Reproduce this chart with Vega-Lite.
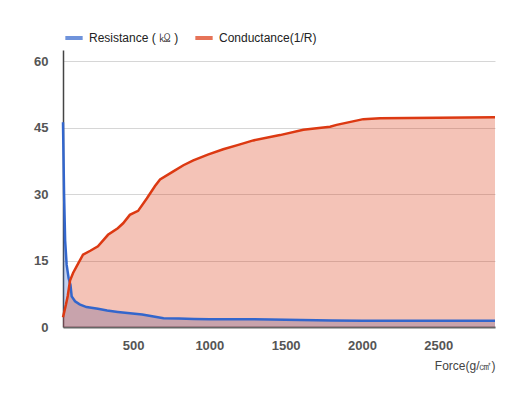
{
  "$schema": "https://vega.github.io/schema/vega-lite/v6.json",
  "width": 432,
  "height": 277,
  "autosize": "none",
  "padding": {"left": 63, "top": 50, "right": 35, "bottom": 76},
  "background": "white",
  "data": {
    "values": [
      {"force": 41, "series": "Resistance ( ㏀ )", "value": 46.2},
      {"force": 48, "series": "Resistance ( ㏀ )", "value": 30},
      {"force": 55, "series": "Resistance ( ㏀ )", "value": 19.5},
      {"force": 65, "series": "Resistance ( ㏀ )", "value": 14},
      {"force": 78, "series": "Resistance ( ㏀ )", "value": 11},
      {"force": 90, "series": "Resistance ( ㏀ )", "value": 9.5},
      {"force": 98, "series": "Resistance ( ㏀ )", "value": 6.9},
      {"force": 120, "series": "Resistance ( ㏀ )", "value": 5.8},
      {"force": 150, "series": "Resistance ( ㏀ )", "value": 5.1},
      {"force": 195, "series": "Resistance ( ㏀ )", "value": 4.5},
      {"force": 270, "series": "Resistance ( ㏀ )", "value": 4.1},
      {"force": 330, "series": "Resistance ( ㏀ )", "value": 3.7},
      {"force": 400, "series": "Resistance ( ㏀ )", "value": 3.4},
      {"force": 480, "series": "Resistance ( ㏀ )", "value": 3.1},
      {"force": 560, "series": "Resistance ( ㏀ )", "value": 2.8},
      {"force": 644, "series": "Resistance ( ㏀ )", "value": 2.3},
      {"force": 700, "series": "Resistance ( ㏀ )", "value": 2.0},
      {"force": 800, "series": "Resistance ( ㏀ )", "value": 1.9},
      {"force": 900, "series": "Resistance ( ㏀ )", "value": 1.8},
      {"force": 1000, "series": "Resistance ( ㏀ )", "value": 1.75},
      {"force": 1200, "series": "Resistance ( ㏀ )", "value": 1.75},
      {"force": 1400, "series": "Resistance ( ㏀ )", "value": 1.7},
      {"force": 1600, "series": "Resistance ( ㏀ )", "value": 1.6},
      {"force": 1800, "series": "Resistance ( ㏀ )", "value": 1.45},
      {"force": 2000, "series": "Resistance ( ㏀ )", "value": 1.4},
      {"force": 2400, "series": "Resistance ( ㏀ )", "value": 1.4},
      {"force": 2872, "series": "Resistance ( ㏀ )", "value": 1.4},
      {"force": 41, "series": "Conductance(1/R)", "value": 2.2},
      {"force": 60, "series": "Conductance(1/R)", "value": 5},
      {"force": 72, "series": "Conductance(1/R)", "value": 7},
      {"force": 87, "series": "Conductance(1/R)", "value": 10.5},
      {"force": 107, "series": "Conductance(1/R)", "value": 12.2},
      {"force": 140, "series": "Conductance(1/R)", "value": 14.3},
      {"force": 172, "series": "Conductance(1/R)", "value": 16.3},
      {"force": 220, "series": "Conductance(1/R)", "value": 17.2},
      {"force": 270, "series": "Conductance(1/R)", "value": 18.2},
      {"force": 336, "series": "Conductance(1/R)", "value": 20.8},
      {"force": 400, "series": "Conductance(1/R)", "value": 22.3},
      {"force": 435, "series": "Conductance(1/R)", "value": 23.4},
      {"force": 479, "series": "Conductance(1/R)", "value": 25.3},
      {"force": 533, "series": "Conductance(1/R)", "value": 26.2},
      {"force": 590, "series": "Conductance(1/R)", "value": 29},
      {"force": 644, "series": "Conductance(1/R)", "value": 31.8},
      {"force": 677, "series": "Conductance(1/R)", "value": 33.3},
      {"force": 764, "series": "Conductance(1/R)", "value": 35.1},
      {"force": 830, "series": "Conductance(1/R)", "value": 36.5},
      {"force": 895, "series": "Conductance(1/R)", "value": 37.6},
      {"force": 990, "series": "Conductance(1/R)", "value": 38.9},
      {"force": 1091, "series": "Conductance(1/R)", "value": 40.1},
      {"force": 1190, "series": "Conductance(1/R)", "value": 41.1},
      {"force": 1288, "series": "Conductance(1/R)", "value": 42.1},
      {"force": 1463, "series": "Conductance(1/R)", "value": 43.3},
      {"force": 1616, "series": "Conductance(1/R)", "value": 44.5},
      {"force": 1791, "series": "Conductance(1/R)", "value": 45.2},
      {"force": 1834, "series": "Conductance(1/R)", "value": 45.6},
      {"force": 2009, "series": "Conductance(1/R)", "value": 46.9},
      {"force": 2119, "series": "Conductance(1/R)", "value": 47.1},
      {"force": 2500, "series": "Conductance(1/R)", "value": 47.2},
      {"force": 2872, "series": "Conductance(1/R)", "value": 47.3}
    ]
  },
  "encoding": {
    "x": {
      "field": "force",
      "type": "quantitative",
      "scale": {"domain": [41, 2872], "nice": false, "zero": false},
      "axis": {
        "values": [500, 1000, 1500, 2000, 2500],
        "format": "d",
        "grid": false,
        "ticks": false,
        "domainColor": "#666",
        "domainWidth": 2,
        "labelPadding": 12,
        "title": "Force(g/㎠)",
        "titleAnchor": "end",
        "titleAlign": "right",
        "titleX": 432,
        "titleY": 33,
        "titleFontWeight": "normal",
        "titleFontSize": 12,
        "titleColor": "#444"
      }
    },
    "y": {
      "field": "value",
      "type": "quantitative",
      "stack": null,
      "scale": {"domain": [0, 62.5], "nice": false},
      "axis": {
        "values": [0, 15, 30, 45, 60],
        "grid": true,
        "gridColor": "#d6d6d6",
        "ticks": false,
        "domainColor": "#444",
        "domainWidth": 1.5,
        "labelPadding": 15,
        "title": null
      }
    }
  },
  "layer": [
    {
      "transform": [{"filter": "datum.series == 'Resistance ( ㏀ )'"}],
      "mark": {"type": "area", "color": "#3366cc", "opacity": 0.3}
    },
    {
      "transform": [{"filter": "datum.series == 'Conductance(1/R)'"}],
      "mark": {"type": "area", "color": "#dc3912", "opacity": 0.3}
    },
    {
      "mark": {"type": "line", "strokeWidth": 2.5},
      "encoding": {
        "color": {
          "field": "series",
          "type": "nominal",
          "sort": ["Resistance ( ㏀ )", "Conductance(1/R)"],
          "scale": {
            "domain": ["Resistance ( ㏀ )", "Conductance(1/R)"],
            "range": ["#3366cc", "#dc3912"]
          },
          "legend": {
            "orient": "none",
            "legendX": 0,
            "legendY": -23,
            "direction": "horizontal",
            "title": null,
            "symbolType": "stroke",
            "symbolStrokeWidth": 4,
            "symbolSize": 300,
            "symbolOpacity": 0.7,
            "labelFontSize": 12,
            "labelColor": "#222",
            "columnPadding": 8,
            "labelOffset": 4
          }
        }
      }
    }
  ],
  "config": {
    "font": "Liberation Sans",
    "view": {"stroke": null},
    "axis": {
      "labelFont": "Liberation Sans",
      "labelFontSize": 13,
      "labelFontWeight": "bold",
      "labelColor": "#555"
    },
    "legend": {"labelFont": "Liberation Sans"}
  }
}
